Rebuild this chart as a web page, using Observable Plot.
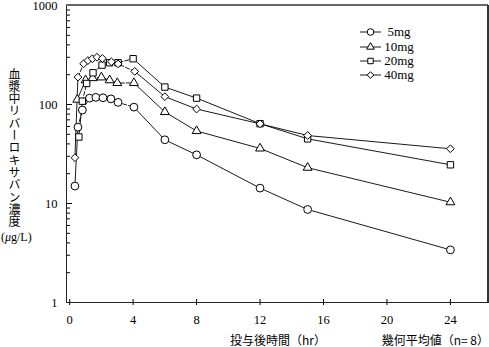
<!DOCTYPE html>
<html>
<head>
<meta charset="utf-8">
<script src="https://cdn.jsdelivr.net/npm/d3@7"></script>
<script src="https://cdn.jsdelivr.net/npm/@observablehq/plot@0.6"></script>
<style>
  body { margin: 0; background: #fff; }
  #wrap { position: relative; width: 489px; height: 347px; overflow: hidden; }
  #ylab { position: absolute; left: 8px; top: 68px; writing-mode: vertical-rl; font: 12px "Noto Sans CJK JP", sans-serif; letter-spacing: 0.3px; color: #000; line-height: 12px; }
  #yunit { position: absolute; left: 1px; top: 230px; font: 12px "Liberation Serif", serif; color: #000; }
</style>
</head>
<body>
<div id="wrap">
  <div id="chart"></div>
  <div id="ylab">血漿中リバーロキサバン濃度</div>
  <div id="yunit">(<i>μ</i>g/L)</div>
</div>
<script>
// ---- data ----
const seriesNames = ["5mg", "10mg", "20mg", "40mg"];
const time5  = [0.33, 0.52, 0.8, 1.25, 1.65, 2.1, 2.6, 3.05, 4.05, 6, 8, 12, 15, 24];
const conc5  = [15, 59, 88, 116, 118, 117, 114, 105, 94, 44, 31, 14.3, 8.7, 3.4];
const time10 = [0.48, 1.0, 1.45, 2.0, 2.52, 3.0, 4.05, 6, 8, 12, 15, 24];
const conc10 = [112, 176, 185, 188, 176, 165, 165, 84, 54, 36, 23, 10.3];
const time20 = [0.58, 0.8, 1.07, 1.47, 2.04, 2.52, 3.05, 4.0, 6, 8, 12, 15, 24];
const conc20 = [47, 108, 163, 209, 250, 264, 264, 290, 150, 116, 64, 45, 24.6];
const time40 = [0.33, 0.52, 0.88, 1.15, 1.43, 1.72, 2.06, 2.63, 3.05, 4.1, 6, 8, 12, 15, 24];
const conc40 = [29, 189, 258, 278, 290, 300, 292, 270, 257, 216, 120, 90, 63.8, 48.6, 35.7];
const xTicks = [0, 4, 8, 12, 16, 20, 24];
const yTicks = [1, 10, 100, 1000];
const xTitle = "投与後時間（hr）";
const noteText = "幾何平均値（n=\u00a08）";

const symbols = ["circle", "triangle", "square", "diamond2"];
const symR = {circle: 3.9, triangle: 3.3, square: 3.6, diamond2: 3.5};
const times = [time5, time10, time20, time40];
const concs = [conc5, conc10, conc20, conc40];

const series = seriesNames.map((name, i) =>
  times[i].map((t, j) => ({series: name, t, c: concs[i][j]}))
);

const yMinor = [];
for (const dec of [1, 10, 100]) for (let k = 2; k <= 9; k++) yMinor.push(k * dec);

const W = 489, H = 347, mL = 66, mR = 1, mT = 5, mB = 45;
const innerW = W - mL - mR, innerH = H - mT - mB;

const marks = [];
series.forEach((data, i) => {
  const early = data.filter(d => d.t <= 4.2);
  const late = data.filter(d => d.t >= 3.9);
  marks.push(Plot.line(early.slice(0, 2), {x: "t", y: "c", stroke: "#000", strokeWidth: 0.9}));
  marks.push(Plot.line(early.slice(1), {x: "t", y: "c", stroke: "#000", strokeWidth: 0.9, strokeDasharray: "4,2"}));
  marks.push(Plot.line(late, {x: "t", y: "c", stroke: "#000", strokeWidth: 0.9}));
});
series.forEach((data, i) => {
  marks.push(Plot.dot(data, {x: "t", y: "c", symbol: () => symbols[i], r: symR[symbols[i]], fill: "#fff", stroke: "#000", strokeWidth: 1}));
});

const plot = Plot.plot({
  width: W, height: H,
  marginLeft: mL, marginRight: mR, marginTop: mT, marginBottom: mB,
  style: {fontFamily: "'Liberation Serif', serif", fontSize: "12.5px", color: "#000", background: "#fff", overflow: "visible"},
  x: {domain: [-0.2, 26.4]},
  y: {type: "log", domain: [1, 1000]},
  symbol: {domain: symbols, range: symbols},
  marks: [
    ...marks,
    Plot.tickX(xTicks, {x: d => d, insetTop: innerH - 3, stroke: "#000"}),
    Plot.tickY(yTicks, {y: d => d, insetRight: innerW - 6, stroke: "#000"}),
    Plot.tickY(yMinor, {y: d => d, insetRight: innerW - 4, stroke: "#000"}),
    Plot.axisX({ticks: xTicks, tickSize: 3, tickPadding: 10, tickFormat: d => String(d), label: null, stroke: "#000"}),
    Plot.axisY({ticks: yTicks, tickSize: 0, tickPadding: 9, tickFormat: d => String(d), label: null}),
    Plot.frame({stroke: "#222", strokeWidth: 1})
  ]
});
document.getElementById("chart").appendChild(plot);

// top / right heavier borders and annotation texts, legend
const svg = d3.select(plot);
svg.append("line").attr("x1", mL).attr("x2", W - mR).attr("y1", mT).attr("y2", mT)
  .attr("stroke", "#666").attr("stroke-width", 2);
svg.append("line").attr("x1", W - mR).attr("x2", W - mR).attr("y1", mT).attr("y2", H - mB)
  .attr("stroke", "#333").attr("stroke-width", 2);

svg.append("text").text(xTitle).attr("x", 278).attr("y", 345)
  .attr("text-anchor", "middle").attr("font-family", "'Noto Sans CJK JP', sans-serif").attr("font-size", 12).attr("fill", "#000");
svg.append("text").text(noteText).attr("x", 489).attr("y", 345)
  .attr("text-anchor", "end").attr("font-family", "'Noto Sans CJK JP', sans-serif").attr("font-size", 12).attr("fill", "#000");

const d3sym = {circle: d3.symbolCircle, triangle: d3.symbolTriangle, square: d3.symbolSquare, diamond2: d3.symbolDiamond2};
const legY = [32, 47, 61, 75];
seriesNames.forEach((name, i) => {
  const g = svg.append("g").attr("transform", `translate(0,${legY[i]})`);
  g.append("line").attr("x1", 360).attr("x2", 381).attr("stroke", "#000").attr("stroke-width", 0.9);
  const rr = symR[symbols[i]] * 0.85;
  g.append("path").attr("transform", "translate(370.5,0)")
    .attr("d", d3.symbol(d3sym[symbols[i]], Math.PI * rr * rr)())
    .attr("fill", "#fff").attr("stroke", "#000");
  g.append("text").text(name).attr("x", 399).attr("dy", "0.32em")
    .attr("font-family", "'Liberation Serif', serif").attr("font-size", 13).attr("fill", "#000");
});
</script>
</body>
</html>
